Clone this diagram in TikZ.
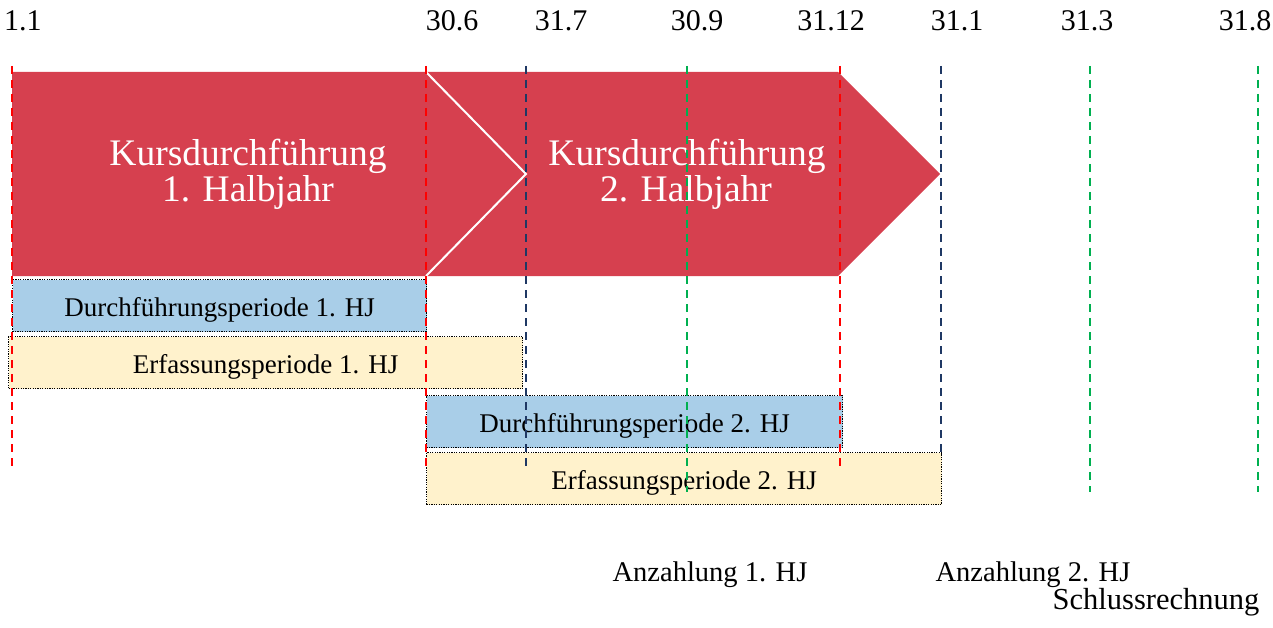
\documentclass[tikz,border=0pt]{standalone}
\usepackage{fontspec}
\setmainfont{Liberation Serif}
\usetikzlibrary{calc}
\definecolor{kred}{HTML}{D6404F}
\definecolor{kblue}{HTML}{A9CEE8}
\definecolor{kcream}{HTML}{FFF2CC}
\definecolor{lred}{HTML}{FF0000}
\definecolor{lnavy}{HTML}{1F3864}
\definecolor{lgreen}{HTML}{00B050}
\begin{document}
\begin{tikzpicture}[x=1pt,y=-1pt,
  vline/.style={line width=2pt, dash pattern=on 8pt off 6pt},
  period/.style={draw=black, line width=1.2pt, dash pattern=on 1.2pt off 1.2pt, inner sep=0pt, anchor=north west, minimum height=52pt},
  lbl/.style={font=\fontsize{27}{32}\selectfont, anchor=base, inner sep=0pt},
  date/.style={font=\fontsize{30}{34}\selectfont, anchor=base, inner sep=0pt},
  note/.style={font=\fontsize{28.5}{32}\selectfont, anchor=base, inner sep=0pt},
  big/.style={font=\fontsize{37.5}{42}\selectfont, text=white, anchor=base, inner sep=0pt},
]
\useasboundingbox (0,0) rectangle (1273,628);

% top date labels
\node[date] (d11)   at (23,31)   {1.1};
\node[date] (d306)  at (452,31)  {30.6};
\node[date] (d317)  at (561,31)  {31.7};
\node[date] (d309)  at (697,31)  {30.9};
\node[date] (d3112) at (831,31)  {31.12};
\node[date] (d311)  at (957,31)  {31.1};
\node[date] (d313)  at (1087,31) {31.3};
\node[date] (d318)  at (1245,31) {31.8};

% red arrow
\coordinate (a0) at (12,72);
\coordinate (a1) at (838,72);
\coordinate (tip) at (940,174);
\coordinate (a2) at (838,276);
\coordinate (a3) at (12,276);
\coordinate (c0) at (426,72);
\coordinate (c1) at (526,174);
\coordinate (c2) at (426,276);
\fill[kred] (a0) -- (a1) -- (tip) -- (a2) -- (a3) -- cycle;
\draw[white, line width=2pt] (c0) -- (c1) -- (c2);
\node[big] (k1a) at (248,166) {Kursdurchführung};
\node[big] (k1b) at (248,202) {1. Halbjahr};
\node[big] (k2a) at (687,166) {Kursdurchführung};
\node[big] (k2b) at (686,202) {2. Halbjahr};

% period boxes
\node[period, fill=kblue,  minimum width=414pt] (p1) at (12,279) {};
\node[period, fill=kcream, minimum width=514pt] (e1) at (8,336) {};
\node[period, fill=kblue,  minimum width=416pt] (p2) at (426,395) {};
\node[period, fill=kcream, minimum width=515pt] (e2) at (426,452) {};
\node[lbl] (tp1) at ($(p1.center)+(0,11)$) {Durchführungsperiode 1. HJ};
\node[lbl] (te1) at ($(e1.center)+(0,11)$) {Erfassungsperiode 1. HJ};
\node[lbl] (tp2) at ($(p2.center)+(0,11)$) {Durchführungsperiode 2. HJ};
\node[lbl] (te2) at ($(e2.center)+(0,11)$) {Erfassungsperiode 2. HJ};

% bottom labels
\node[note] (z1) at (710,581)  {Anzahlung 1. HJ};
\node[note] (z2) at (1033,581) {Anzahlung 2. HJ};
\node[note, font=\fontsize{30.5}{34}\selectfont] (sr) at (1156,609) {Schlussrechnung};

% vertical dashed markers
\coordinate (v1t) at (12,66);   \coordinate (v1b) at (12,466);
\coordinate (v2t) at (426,66);  \coordinate (v2b) at (426,466);
\coordinate (v3t) at (526,66);  \coordinate (v3b) at (526,466);
\coordinate (v4t) at (687,66);  \coordinate (v4b) at (687,492);
\coordinate (v5t) at (840,66);  \coordinate (v5b) at (840,466);
\coordinate (v6t) at (941,66);  \coordinate (v6b) at (941,452);
\coordinate (v7t) at (1090,66); \coordinate (v7b) at (1090,492);
\coordinate (v8t) at (1258,66); \coordinate (v8b) at (1258,492);
\draw[vline, lred]   (v1t) -- (v1b);
\draw[vline, lred]   (v2t) -- (v2b);
\draw[vline, lnavy]  (v3t) -- (v3b);
\draw[vline, lgreen] (v4t) -- (v4b);
\draw[vline, lred]   (v5t) -- (v5b);
\draw[vline, lnavy]  (v6t) -- (v6b);
\draw[vline, lgreen] (v7t) -- (v7b);
\draw[vline, lgreen] (v8t) -- (v8b);
\end{tikzpicture}
\end{document}
